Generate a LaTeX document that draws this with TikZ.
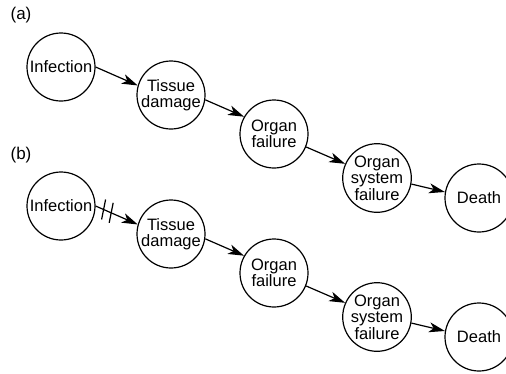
\documentclass[tikz,border=0pt]{standalone}
\usepackage{fontspec}
\setmainfont{Liberation Sans}
\usetikzlibrary{arrows.meta}

\tikzset{
  stage/.style={draw, circle, minimum size=68pt, inner sep=0pt, line width=1.2pt,
    align=center, font=\fontsize{16.5}{16.5}\selectfont},
  link/.style={line width=1.2pt, -{Stealth[length=16pt,width=10pt,inset=4.5pt]}},
  cut/.style={line width=1.2pt},
  tag/.style={font=\fontsize{17}{19}\selectfont}
}

\begin{document}
\begin{tikzpicture}[x=1pt,y=-1pt]
    \useasboundingbox (0,0) rectangle (506,373);

    % Panel labels
    \node[tag] (taga) at (21,15) {(a)};
    \node[tag] (tagb) at (21,155) {(b)};

    % Panel (a): stages
    \node[stage] (inf1) at (61,67) {Infection};
    \node[stage] (tis1) at (171,95) {Tissue\\damage};
    \node[stage] (org1) at (274,134) {Organ\\failure};
    \node[stage] (sys1) at (377,178) {Organ\\system\\failure};
    \node[stage] (dth1) at (479,198) {Death};

    % Panel (a): links
    \draw[link] (inf1.0) -- (tis1.164);
    \draw[link] (tis1.-8) -- (org1.150);
    \draw[link] (org1.-22) -- (sys1.156);
    \draw[link] (sys1.-10) -- (dth1.170);

    % Panel (b): stages
    \node[stage] (inf2) at (61,206) {Infection};
    \node[stage] (tis2) at (171,234) {Tissue\\damage};
    \node[stage] (org2) at (274,273) {Organ\\failure};
    \node[stage] (sys2) at (377,317) {Organ\\system\\failure};
    \node[stage] (dth2) at (479,337) {Death};

    % Panel (b): links, the first one broken
    \draw[link] (inf2.0) -- coordinate[pos=0.19] (brk1) coordinate[pos=0.37] (brk2) (tis2.164);
    \draw[cut] ([shift={(-2,10)}]brk1) -- ([shift={(2,-10)}]brk1);
    \draw[cut] ([shift={(-2,10)}]brk2) -- ([shift={(2,-10)}]brk2);
    \draw[link] (tis2.-8) -- (org2.150);
    \draw[link] (org2.-22) -- (sys2.156);
    \draw[link] (sys2.-10) -- (dth2.170);
\end{tikzpicture}
\end{document}
